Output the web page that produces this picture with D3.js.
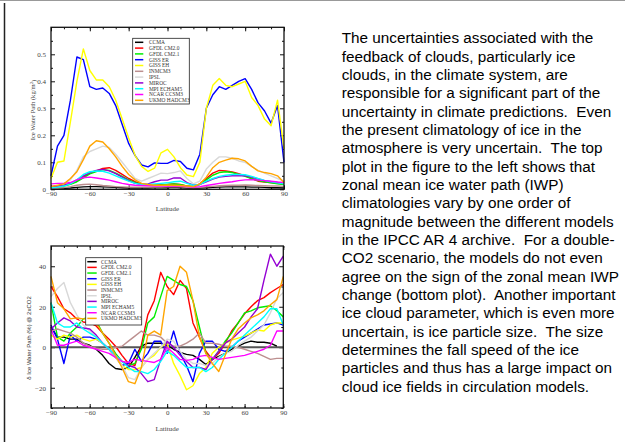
<!DOCTYPE html>
<html>
<head>
<meta charset="utf-8">
<script src="https://cdn.jsdelivr.net/npm/d3@7"></script>
<style>
  body { margin: 0; background: #fff; }
  svg { display: block; }
</style>
</head>
<body>
<div id="chart"></div>
<script>
// latitude grid shared by both panels
var lats = [-90, -85, -80, -75, -70, -65, -60, -55, -50, -45, -40, -35, -30, -25, -20, -15, -10, -5, 0,
            5, 10, 15, 20, 25, 30, 35, 40, 45, 50, 55, 60, 65, 70, 75, 80, 85, 90];

var models = ['CCMA', 'GFDL CM2.0', 'GFDL CM2.1', 'GISS ER', 'GISS EH', 'INMCM3', 'IPSL',
              'MIROC', 'MPI ECHAM5', 'NCAR CCSM3', 'UKMO HADCM3'];
var modelColors = ['#000000', '#ff0000', '#00ee00', '#0000ff', '#ffff00', '#bc8f8f', '#d8d8d8',
                   '#9400d3', '#00ffff', '#ff00ff', '#ffa500'];

// top panel: zonal mean ice water path (kg/m2)
var iwpCCMA   = [0.002, 0.003, 0.004, 0.005, 0.007, 0.009, 0.010, 0.010, 0.009, 0.008, 0.007, 0.006, 0.005, 0.005, 0.005, 0.005, 0.006, 0.006, 0.006,
                 0.007, 0.006, 0.005, 0.004, 0.005, 0.006, 0.007, 0.008, 0.009, 0.009, 0.009, 0.009, 0.008, 0.008, 0.007, 0.006, 0.006, 0.005];
var iwpGFDL20 = [0.010, 0.012, 0.015, 0.020, 0.030, 0.045, 0.060, 0.068, 0.077, 0.080, 0.070, 0.055, 0.040, 0.028, 0.020, 0.016, 0.015, 0.017, 0.018,
                 0.020, 0.018, 0.012, 0.010, 0.020, 0.040, 0.060, 0.070, 0.068, 0.064, 0.058, 0.050, 0.040, 0.030, 0.027, 0.025, 0.022, 0.020];
var iwpGFDL21 = [0.005, 0.008, 0.012, 0.018, 0.028, 0.042, 0.057, 0.066, 0.073, 0.070, 0.060, 0.048, 0.035, 0.025, 0.018, 0.015, 0.015, 0.016, 0.018,
                 0.020, 0.017, 0.012, 0.010, 0.018, 0.035, 0.052, 0.062, 0.065, 0.062, 0.055, 0.048, 0.040, 0.032, 0.028, 0.024, 0.020, 0.018];
var iwpGISSER = [0.050, 0.160, 0.200, 0.330, 0.490, 0.480, 0.380, 0.370, 0.375, 0.355, 0.310, 0.240, 0.170, 0.125, 0.090, 0.083, 0.098, 0.096, 0.096,
                 0.107, 0.103, 0.078, 0.072, 0.130, 0.300, 0.350, 0.380, 0.370, 0.385, 0.400, 0.410, 0.370, 0.320, 0.290, 0.245, 0.310, 0.100];
var iwpGISSEH = [0.040, 0.100, 0.105, 0.250, 0.400, 0.520, 0.440, 0.405, 0.405, 0.380, 0.330, 0.260, 0.190, 0.125, 0.085, 0.066, 0.078, 0.135, 0.148,
                 0.120, 0.080, 0.053, 0.047, 0.100, 0.300, 0.385, 0.410, 0.385, 0.380, 0.390, 0.400, 0.340, 0.310, 0.260, 0.235, 0.330, 0.150];
var iwpINMCM3 = [0.003, 0.004, 0.006, 0.010, 0.015, 0.018, 0.019, 0.017, 0.014, 0.012, 0.010, 0.009, 0.008, 0.008, 0.008, 0.008, 0.008, 0.008, 0.009,
                 0.010, 0.009, 0.007, 0.006, 0.007, 0.009, 0.011, 0.013, 0.014, 0.015, 0.015, 0.016, 0.015, 0.014, 0.013, 0.012, 0.012, 0.011];
var iwpIPSL   = [0.010, 0.012, 0.020, 0.035, 0.070, 0.120, 0.140, 0.150, 0.160, 0.155, 0.130, 0.100, 0.070, 0.040, 0.030, 0.040, 0.050, 0.060, 0.058,
                 0.062, 0.068, 0.040, 0.020, 0.030, 0.075, 0.100, 0.120, 0.120, 0.115, 0.105, 0.100, 0.085, 0.070, 0.060, 0.050, 0.040, 0.030];
var iwpMIROC  = [0.010, 0.012, 0.015, 0.022, 0.035, 0.050, 0.062, 0.070, 0.074, 0.068, 0.058, 0.045, 0.032, 0.022, 0.018, 0.020, 0.028, 0.034, 0.034,
                 0.042, 0.042, 0.025, 0.015, 0.018, 0.028, 0.038, 0.045, 0.048, 0.050, 0.050, 0.050, 0.045, 0.038, 0.032, 0.028, 0.025, 0.022];
var iwpMPI    = [0.005, 0.008, 0.012, 0.020, 0.035, 0.055, 0.065, 0.068, 0.067, 0.060, 0.050, 0.040, 0.030, 0.022, 0.018, 0.018, 0.020, 0.022, 0.024,
                 0.028, 0.030, 0.022, 0.015, 0.018, 0.030, 0.040, 0.048, 0.052, 0.055, 0.055, 0.054, 0.048, 0.040, 0.033, 0.028, 0.024, 0.020];
var iwpNCAR   = [0.020, 0.022, 0.022, 0.025, 0.035, 0.043, 0.045, 0.042, 0.038, 0.034, 0.028, 0.022, 0.018, 0.015, 0.014, 0.013, 0.012, 0.012, 0.012,
                 0.013, 0.012, 0.010, 0.008, 0.010, 0.014, 0.018, 0.022, 0.025, 0.028, 0.032, 0.035, 0.036, 0.034, 0.032, 0.030, 0.027, 0.025];
var iwpUKMO   = [0.010, 0.015, 0.020, 0.040, 0.065, 0.110, 0.160, 0.180, 0.175, 0.150, 0.120, 0.085, 0.055, 0.035, 0.022, 0.018, 0.015, 0.015, 0.016,
                 0.015, 0.014, 0.012, 0.010, 0.020, 0.045, 0.080, 0.100, 0.108, 0.115, 0.113, 0.105, 0.085, 0.068, 0.062, 0.058, 0.050, 0.025];

// bottom panel: change of ice water path (%) at 2xCO2
var dCCMA   = [10, 5, 5, 4, 4, 2, 1, -1, -4, -8, -10.5, -11, -10, -5, 0.5, 2, 2, 2, 1,
               -1, -2.5, -3.5, -4, -6, -8.5, -6, -4.5, -3, -1, 0.5, 2, 3, 2.5, 2.5, 2, 0.5, null];
var dGFDL20 = [30, 25, 19, 17, 14, 12.5, 12, 10.5, 7, 4, 0.5, -4, -8, -9, 1, 16, 23, 37, 30,
               26, 33, 29, 12, 5, -2, -6, -3, 2, 8, 12, 16.5, 20, 23, 24.5, 27, 29, 31];
var dGFDL21 = [22, 5, 3, 7, 10, 14, 15, 13, 7, 2, -3, -7, -9, -8, -1, 12, 15, 25, 35,
               33, 31, 30, 23, 10, -3, -6, -2, 3, 7, 12, 17, 18, 19.5, 20, 20.5, 18, 15];
var dGISSER = [11, 4, -8, 6, 3, 5, 5, 4, 2, -1, -5, -9, -8, -1, -7, -3, 3, 3, -3,
               8, -3, -9, -17, -3, 3, 3, -1, -2, 0, 3, 5, 7, 9, 11, 11.5, 12, 11];
var dGISSEH = [6, 4, 6, 5, 6, 4, 3, 4, 2, -1, -5, -9, -11, -11, -10, -6, -4, 0, 2,
               -8, -14, -21, -19, -13, -10, -3, 0, 2, 3.5, 4.5, 5.5, 7, 8.5, 8, 11, 12, 12];
var dINMCM3 = [8, 9, 8, 7, 5, 2, 0.5, -0.5, -1, -1, 0, 0.5, 3, 5.5, 8, 6, 6, 5, 2,
               0.5, 0.5, 2, 4, 7, 2, 2, 1.5, 0.5, 0.5, 0, -1, -2, -3, -4.5, -6, -5.5, -5.5];
var dIPSL   = [25, 29, 32, 22, 16, 11, 8, 5, 2, -1, -5, -9, -15, -16, -10, -6, -3, 0, 4,
               3, -2, -6, -8, -8, -9, -8, -5, -3, -2, 1, 3, 5, 8, 11, 17, 24, 27];
var dMIROC  = [9, 12, 14.5, 13, 10, 9.5, 9, 6, 2, -1, -4, -7, -9, -10, -13, -17, -16, -6, 3,
               0, -4, -7, -10, -10, -11, -6, -2, 2, 4, 7, 10, 15, 19, 33, 46, 40, 45];
var dMPI    = [22, 12, 10, 10, 12, 9, 7, 5, 2, -1, -4, -7, -10, -12, -12, -13, -11, -7, -2,
               -4, -7, -10, -10, -10, -12, -10, -6, -3, 0, 3, 6, 9, 12, 15, 19, 19, 11];
var dNCAR   = [9, 1, 1, 2, 3, 1, 0, -1, -2, -3, -5, -7, -7.5, -6, -6.5, -7, -7.5, -6, 0,
               -3, -6, -6.5, -6, -4.5, -4, -5, -6, -5.5, -5, -4.5, -4, -3, -2, -1, 1, 8, 8];
var dUKMO   = [35, 22, 19, 14, 14.5, 14, 14, 12, 7, 2, -4, -10, -17, -18, -10, 6, 8, 6, 28,
               30, 40, 37, 23, 5, -3, -8, -12, -4, 4, 9, 12, 14.5, 16, 18, 21, 23.5, 35];

var topSeries = [iwpCCMA, iwpGFDL20, iwpGFDL21, iwpGISSER, iwpGISSEH, iwpINMCM3, iwpIPSL,
                 iwpMIROC, iwpMPI, iwpNCAR, iwpUKMO];
var bottomSeries = [dCCMA, dGFDL20, dGFDL21, dGISSER, dGISSEH, dINMCM3, dIPSL,
                    dMIROC, dMPI, dNCAR, dUKMO];

var textLines = [
    'The uncertainties associated with the',
    'feedback of clouds, particularly ice',
    'clouds, in the climate system, are',
    'responsible for a significant part of the',
    'uncertainty in climate predictions.  Even',
    'the present climatology of ice in the',
    'atmosphere is very uncertain.  The top',
    'plot in the figure to the left shows that',
    'zonal mean ice water path (IWP)',
    'climatologies vary by one order of',
    'magnitude between the different models',
    'in the IPCC AR 4 archive.  For a double-',
    'CO2 scenario, the models do not even',
    'agree on the sign of the zonal mean IWP',
    'change (bottom plot).  Another important',
    'ice cloud parameter, which is even more',
    'uncertain, is ice particle size.  The size',
    'determines the fall speed of the ice',
    'particles and thus has a large impact on',
    'cloud ice fields in circulation models.'
];

var width = 625, height = 442;
var serif = '"Liberation Serif", "Times New Roman", serif';
var sans = '"Liberation Sans", Arial, sans-serif';

var svg = d3.select('#chart').append('svg')
    .attr('width', width)
    .attr('height', height);

// page frame (top and left edges)
svg.append('line').attr('x1', 0).attr('x2', width).attr('y1', 0.5).attr('y2', 0.5)
    .attr('stroke', '#999').attr('stroke-width', 1);
svg.append('line').attr('x1', 4.5).attr('x2', 4.5).attr('y1', 3).attr('y2', height)
    .attr('stroke', '#222').attr('stroke-width', 1.5);

function drawPanel(opts) {
    var x = d3.scaleLinear().domain([-90, 90]).range([opts.left, opts.right]);
    var y = d3.scaleLinear().domain(opts.yDomain).range([opts.bottom, opts.top]);
    var g = svg.append('g');

    // minor ticks on every side, pointing inward
    var minorX = d3.range(-90, 91, 10), minorY = opts.minorY;
    g.append('g').attr('transform', 'translate(0,' + opts.bottom + ')')
        .call(d3.axisBottom(x).tickValues(minorX).tickSize(-2).tickFormat(''));
    g.append('g').attr('transform', 'translate(0,' + opts.top + ')')
        .call(d3.axisTop(x).tickValues(minorX).tickSize(-2).tickFormat(''));
    g.append('g').attr('transform', 'translate(' + opts.left + ',0)')
        .call(d3.axisLeft(y).tickValues(minorY).tickSize(-2).tickFormat(''));
    g.append('g').attr('transform', 'translate(' + opts.right + ',0)')
        .call(d3.axisRight(y).tickValues(minorY).tickSize(-2).tickFormat(''));

    // major ticks with labels
    var xAxis = g.append('g').attr('transform', 'translate(0,' + opts.bottom + ')')
        .call(d3.axisBottom(x).tickValues([-90, -60, -30, 0, 30, 60, 90]).tickSize(-4).tickPadding(4));
    var yAxis = g.append('g').attr('transform', 'translate(' + opts.left + ',0)')
        .call(d3.axisLeft(y).tickValues(opts.majorY).tickSize(-4).tickPadding(5).tickFormat(opts.yFormat));
    g.append('g').attr('transform', 'translate(0,' + opts.top + ')')
        .call(d3.axisTop(x).tickValues([-90, -60, -30, 0, 30, 60, 90]).tickSize(-4).tickFormat(''));
    g.append('g').attr('transform', 'translate(' + opts.right + ',0)')
        .call(d3.axisRight(y).tickValues(opts.majorY).tickSize(-4).tickFormat(''));

    g.selectAll('.domain').remove();
    g.selectAll('.tick line').attr('stroke', '#111');
    [xAxis, yAxis].forEach(function (a) {
        a.selectAll('text')
            .style('font-family', serif)
            .style('font-size', '7px')
            .attr('fill', '#444');
    });
    xAxis.selectAll('text').attr('dy', '0.4em');

    if (opts.zeroLine) {
        g.append('line')
            .attr('x1', x(-90)).attr('x2', x(90))
            .attr('y1', y(0)).attr('y2', y(0))
            .attr('stroke', '#555').attr('stroke-width', 2);
    }

    // model curves
    var line = d3.line()
        .defined(function (d) { return d != null; })
        .x(function (d, i) { return x(lats[i]); })
        .y(function (d) { return y(d); });

    g.append('g').selectAll('path')
        .data(opts.series).enter()
        .append('path')
        .attr('d', line)
        .attr('fill', 'none')
        .attr('stroke', function (d, i) { return modelColors[i]; })
        .attr('stroke-width', 1.4)
        .attr('stroke-linejoin', 'round');

    // frame
    g.append('rect')
        .attr('x', opts.left).attr('y', opts.top)
        .attr('width', opts.right - opts.left)
        .attr('height', opts.bottom - opts.top)
        .attr('fill', 'none').attr('stroke', '#111').attr('stroke-width', 1.3);

    // legend
    var lg = opts.legend;
    g.append('rect')
        .attr('x', lg.x).attr('y', lg.y)
        .attr('width', lg.w).attr('height', lg.h)
        .attr('fill', '#fff').attr('stroke', '#222').attr('stroke-width', 0.8);
    var items = g.append('g').selectAll('g')
        .data(models).enter()
        .append('g')
        .attr('transform', function (d, i) { return 'translate(0,' + (lg.y0 + i * lg.step) + ')'; });
    items.append('line')
        .attr('x1', lg.lx1).attr('x2', lg.lx2)
        .attr('stroke', function (d, i) { return modelColors[i]; })
        .attr('stroke-width', 1.5);
    items.append('text')
        .attr('x', lg.tx).attr('dy', '0.35em')
        .style('font-family', serif).style('font-size', '5.4px')
        .attr('fill', '#333')
        .text(function (d) { return d; });

    // x axis title
    g.append('text')
        .attr('x', (opts.left + opts.right) / 2).attr('y', opts.xTitleY)
        .attr('text-anchor', 'middle')
        .style('font-family', serif).style('font-size', '7px')
        .attr('fill', '#444')
        .text('Latitude');

    return g;
}

var top = drawPanel({
    left: 51, right: 284, top: 27.3, bottom: 189.3,
    yDomain: [0, 0.6],
    majorY: [0, 0.1, 0.2, 0.3, 0.4, 0.5],
    minorY: [0.05, 0.15, 0.25, 0.35, 0.45, 0.55],
    yFormat: function (d) { return d === 0 ? '0' : d3.format('.1f')(d); },
    series: topSeries,
    xTitleY: 211,
    legend: { x: 132.7, y: 38.3, w: 56.6, h: 65.7, y0: 42.3, step: 5.8, lx1: 135, lx2: 143.3, tx: 149 }
});

var bottom = drawPanel({
    left: 51, right: 283.3, top: 246, bottom: 408,
    yDomain: [-30, 50],
    majorY: [-20, 0, 20, 40],
    minorY: [-30, -10, 10, 30],
    yFormat: d3.format('d'),
    series: bottomSeries,
    zeroLine: true,
    xTitleY: 431,
    legend: { x: 85.7, y: 257.7, w: 56, h: 67.3, y0: 261.7, step: 5.67, lx1: 87.3, lx2: 96.7, tx: 101 }
});

// y axis titles
var t1 = svg.append('text')
    .attr('transform', 'translate(35,110) rotate(-90)')
    .attr('text-anchor', 'middle')
    .style('font-family', serif).style('font-size', '6.6px')
    .attr('fill', '#444');
t1.append('tspan').text('Ice Water Path (kg/m');
t1.append('tspan').attr('dy', '-0.4em').style('font-size', '4.8px').text('2');
t1.append('tspan').attr('dy', '0.4em').text(')');

svg.append('text')
    .attr('transform', 'translate(31,338) rotate(-90)')
    .attr('text-anchor', 'middle')
    .style('font-family', sans).style('font-size', '6px')
    .attr('fill', '#333')
    .text('\u03B4 Ice Water Path (%) @ 2xCO2');

// description text block
svg.append('g').selectAll('text')
    .data(textLines).enter()
    .append('text')
    .attr('x', 341.7)
    .attr('y', function (d, i) { return 43.2 + i * 18.34; })
    .style('font-family', sans)
    .style('font-size', '15.3px')
    .style('white-space', 'pre')
    .attr('fill', '#000')
    .text(function (d) { return d; });
</script>
</body>
</html>
